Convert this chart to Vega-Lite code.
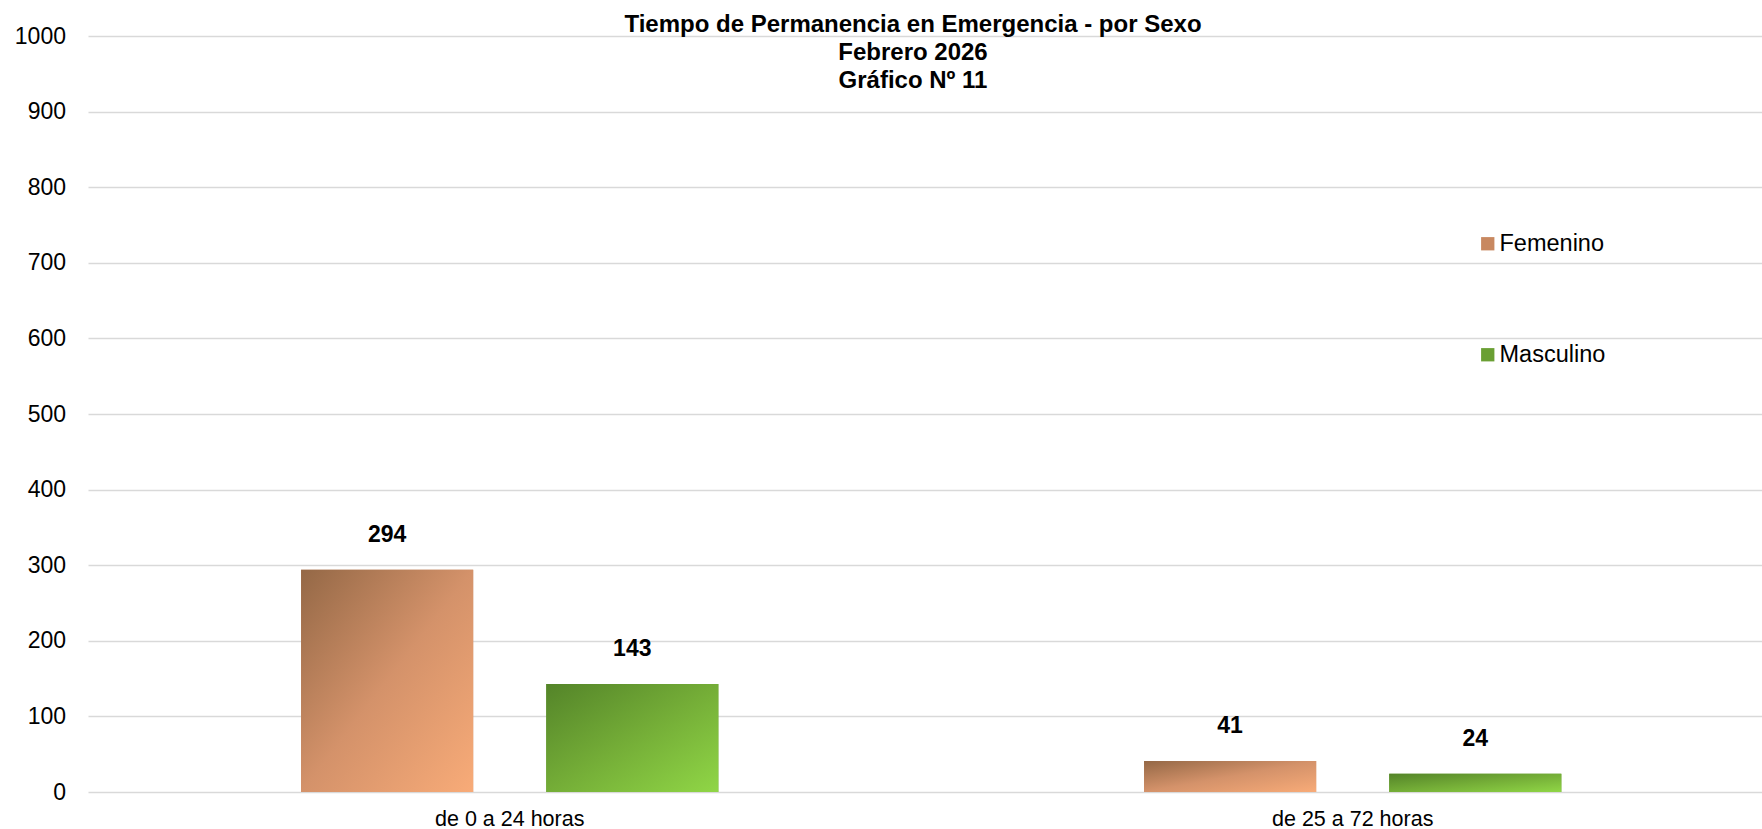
{
  "$schema": "https://vega.github.io/schema/vega-lite/v6.json",
  "autosize": "none",
  "padding": {"left": 88, "top": 36, "right": 0, "bottom": 37},
  "width": 1674,
  "height": 756,
  "background": "white",
  "config": {
    "font": "Liberation Sans",
    "view": {"stroke": null}
  },
  "title": {
    "text": ["Tiempo de Permanencia en Emergencia - por Sexo", "Febrero 2026", "Gráfico Nº 11"],
    "font": "Liberation Sans",
    "fontSize": 24,
    "fontWeight": "bold",
    "color": "black",
    "lineHeight": 28,
    "anchor": "middle",
    "frame": "group",
    "dx": -12,
    "offset": -68
  },
  "data": {
    "values": [
      {"rango": "de 0 a 24 horas", "sexo": "Femenino", "valor": 294},
      {"rango": "de 0 a 24 horas", "sexo": "Masculino", "valor": 143},
      {"rango": "de 25 a 72 horas", "sexo": "Femenino", "valor": 41},
      {"rango": "de 25 a 72 horas", "sexo": "Masculino", "valor": 24}
    ]
  },
  "encoding": {
    "x": {
      "field": "rango",
      "type": "nominal",
      "sort": null,
      "scale": {"paddingInner": 0.505, "paddingOuter": 0.2454, "align": 0.515},
      "axis": {
        "title": null,
        "labelAngle": 0,
        "ticks": false,
        "domain": false,
        "labelPadding": 16,
        "labelFontSize": 21.5,
        "labelColor": "black",
        "labelFont": "Liberation Sans"
      }
    },
    "xOffset": {
      "field": "sexo",
      "type": "nominal",
      "scale": {"domain": ["Femenino", "Masculino"], "paddingInner": 0.298, "paddingOuter": 0}
    },
    "y": {
      "field": "valor",
      "type": "quantitative",
      "scale": {"domain": [0, 1000], "nice": false},
      "axis": {
        "title": null,
        "format": "d",
        "values": [0, 100, 200, 300, 400, 500, 600, 700, 800, 900, 1000],
        "ticks": false,
        "domain": false,
        "labelPadding": 22.5,
        "labelFontSize": 23,
        "labelColor": "black",
        "labelFont": "Liberation Sans",
        "grid": true,
        "gridColor": "#d9d9d9",
        "gridWidth": 1.6
      }
    }
  },
  "layer": [
    {
      "mark": {"type": "bar"},
      "encoding": {
        "color": {
          "field": "sexo",
          "type": "nominal",
          "scale": {
            "domain": ["Femenino", "Masculino"],
            "range": ["#c88860", "#6a9f33"]
          },
          "legend": {
            "title": null,
            "orient": "none",
            "legendX": 1388,
            "legendY": 196,
            "symbolType": "square",
            "symbolSize": 177,
            "symbolStrokeWidth": 0,
            "labelFontSize": 23.5,
            "labelFont": "Liberation Sans",
            "labelColor": "black",
            "labelOffset": 0,
            "rowPadding": 86,
            "symbolOpacity": 1
          }
        }
      }
    },
    {
      "transform": [{"filter": "datum.sexo === 'Femenino'"}],
      "mark": {
        "type": "bar",
        "color": {"gradient": "linear", "x1": 0, "y1": 0, "x2": 1, "y2": 1, "stops": [{"offset": 0, "color": "#946846"}, {"offset": 0.5, "color": "#d4926a"}, {"offset": 1, "color": "#f8ab78"}]}
      }
    },
    {
      "transform": [{"filter": "datum.sexo === 'Masculino'"}],
      "mark": {
        "type": "bar",
        "color": {"gradient": "linear", "x1": 0, "y1": 0, "x2": 1, "y2": 1, "stops": [{"offset": 0, "color": "#548429"}, {"offset": 0.5, "color": "#74ad37"}, {"offset": 1, "color": "#90d646"}]}
      }
    },
    {
      "mark": {"type": "text", "dy": -28, "baseline": "alphabetic", "fontSize": 23, "fontWeight": "bold", "color": "black", "font": "Liberation Sans"},
      "encoding": {
        "text": {"field": "valor", "type": "quantitative"}
      }
    }
  ]
}
